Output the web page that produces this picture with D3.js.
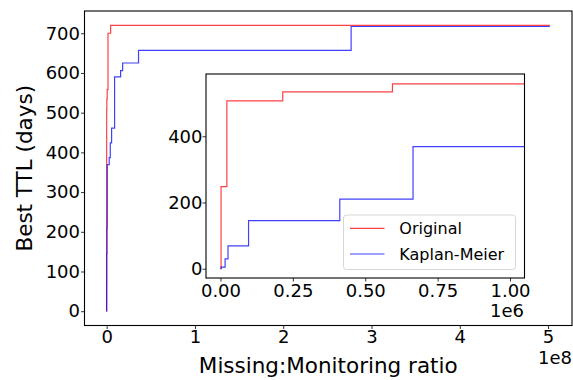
<!DOCTYPE html>
<html>
<head>
<meta charset="utf-8">
<script src="https://cdn.jsdelivr.net/npm/d3@7"></script>
<style>
    body { margin: 0; background: #fff; }
    svg { font-family: "DejaVu Sans", sans-serif; }
    .tick text { fill: #000; }
    .tick line { stroke: #000; stroke-width: 0.8; }
</style>
</head>
<body>
<div id="chart"></div>
<script>
// step series (x = missing:monitoring ratio, y = best TTL in days)
var originalX = [0, 2e3, 22e3, 215e3, 594e3, 1.5e6, 4.5e6, 5.02e8];
var originalY = [0, 248, 507, 534, 558, 700, 720, 720];

var kmX = [0, 2e3, 16e3, 26e3, 97e3, 412e3, 665e3, 2.9e6, 4.1e6, 5.6e6, 9.0e6, 15.8e6, 18.1e6, 36.1e6, 276.9e6, 5.02e8];
var kmY = [0, 5, 30, 69, 145, 210, 369, 387, 424, 461, 590, 606, 625, 657, 717, 717];

var mainXTicks = [0, 1e8, 2e8, 3e8, 4e8, 5e8];
var mainYTicks = [0, 100, 200, 300, 400, 500, 600, 700];
var insetXTicks = [0, 0.25e6, 0.5e6, 0.75e6, 1e6];
var insetYTicks = [0, 200, 400];
var insetXMax = 1e6, insetYMax = 560;

var seriesNames = ["Original", "Kaplan-Meier"];
var seriesColors = ["#ff0000", "#0000ff"];

var W = 573, H = 380;
var svg = d3.select("#chart").append("svg").attr("width", W).attr("height", H);
svg.append("rect").attr("width", W).attr("height", H).attr("fill", "#fff");

var series = [
    originalX.map(function (x, i) { return [x, originalY[i]]; }),
    kmX.map(function (x, i) { return [x, kmY[i]]; })
];

function pad(lo, hi) { var p = (hi - lo) * 0.05; return [lo - p, hi + p]; }

// main axes box
var M = { left: 84.5, right: 572, top: 11, bottom: 325.5 };
var xMax = d3.max(originalX.concat(kmX));
var yMax = d3.max(originalY.concat(kmY));
var x = d3.scaleLinear().domain(pad(0, xMax)).range([M.left, M.right]);
var y = d3.scaleLinear().domain(pad(0, yMax)).range([M.bottom, M.top]);

// inset box
var I = { left: 206, right: 524.5, top: 74, bottom: 278 };
var xi = d3.scaleLinear().domain(pad(0, insetXMax)).range([I.left, I.right]);
var yi = d3.scaleLinear().domain(pad(0, insetYMax)).range([I.bottom, I.top]);

function drawLines(g, sx, sy, clipId, box) {
    g.append("clipPath").attr("id", clipId).append("rect")
        .attr("x", box.left).attr("y", box.top)
        .attr("width", box.right - box.left).attr("height", box.bottom - box.top);
    var line = d3.line().x(d => sx(d[0])).y(d => sy(d[1])).curve(d3.curveStepAfter);
    var lg = g.append("g").attr("clip-path", "url(#" + clipId + ")");
    series.forEach(function (s, i) {
        lg.append("path").datum(s).attr("d", line)
            .attr("fill", "none")
            .attr("stroke", seriesColors[i])
            .attr("stroke-opacity", 0.75)
            .attr("stroke-width", 1.2);
    });
}

function drawFrame(g, box) {
    g.append("rect")
        .attr("x", box.left).attr("y", box.top)
        .attr("width", box.right - box.left).attr("height", box.bottom - box.top)
        .attr("fill", "none").attr("stroke", "#000").attr("stroke-width", 1.1);
}

// ---- main plot
var main = svg.append("g");
drawLines(main, x, y, "clipMain", M);

var xAxis = main.append("g").attr("transform", "translate(0," + M.bottom + ")")
    .call(d3.axisBottom(x).tickValues(mainXTicks).tickFormat(d => d / 1e8).tickSize(3.5).tickPadding(1.2));
var yAxis = main.append("g").attr("transform", "translate(" + M.left + ",0)")
    .call(d3.axisLeft(y).tickValues(mainYTicks).tickFormat(d3.format("d")).tickSize(3.5).tickPadding(1));
[xAxis, yAxis].forEach(function (a) {
    a.select(".domain").remove();
    a.selectAll("text").attr("font-size", 18).attr("font-family", "DejaVu Sans");
});

main.append("text").attr("x", 572).attr("y", 364).attr("text-anchor", "end")
    .attr("font-size", 18).text("1e8");
main.append("text").attr("x", (M.left + M.right) / 2).attr("y", 373)
    .attr("text-anchor", "middle").attr("font-size", 21.5).text("Missing:Monitoring ratio");
main.append("text")
    .attr("transform", "translate(32," + ((M.top + M.bottom) / 2) + ") rotate(-90)")
    .attr("text-anchor", "middle").attr("font-size", 21.5).text("Best TTL (days)");
drawFrame(main, M);

// ---- inset
var inset = svg.append("g");
inset.append("rect").attr("x", I.left).attr("y", I.top)
    .attr("width", I.right - I.left).attr("height", I.bottom - I.top).attr("fill", "#fff");
drawLines(inset, xi, yi, "clipInset", I);

var xiAxis = inset.append("g").attr("transform", "translate(0," + I.bottom + ")")
    .call(d3.axisBottom(xi).tickValues(insetXTicks).tickFormat(d => (d / 1e6).toFixed(2)).tickSize(3.5).tickPadding(3));
var yiAxis = inset.append("g").attr("transform", "translate(" + I.left + ",0)")
    .call(d3.axisLeft(yi).tickValues(insetYTicks).tickFormat(d3.format("d")).tickSize(3.5).tickPadding(0));
[xiAxis, yiAxis].forEach(function (a) {
    a.select(".domain").remove();
    a.selectAll("text").attr("font-size", 18).attr("font-family", "DejaVu Sans");
});
inset.append("text").attr("x", 524).attr("y", 317).attr("text-anchor", "end")
    .attr("font-size", 18).text("1e6");
drawFrame(inset, I);

// legend
var leg = inset.append("g");
leg.append("rect").attr("x", 343.5).attr("y", 215).attr("width", 172).attr("height", 54.5)
    .attr("rx", 3).attr("fill", "#fff").attr("fill-opacity", 0.8)
    .attr("stroke", "#d6d6d6").attr("stroke-width", 1);
seriesNames.forEach(function (name, i) {
    var ly = 228.3 + i * 25.7;
    leg.append("line").attr("x1", 350).attr("x2", 384.5).attr("y1", ly).attr("y2", ly)
        .attr("stroke", seriesColors[i]).attr("stroke-opacity", 0.75).attr("stroke-width", 1.2);
    leg.append("text").attr("x", 399.3).attr("y", ly + 6).attr("font-size", 16).text(name);
});
</script>
</body>
</html>
